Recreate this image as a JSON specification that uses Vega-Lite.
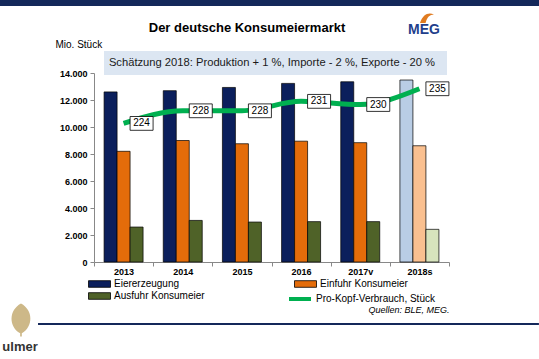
{
 "$schema": "https://vega.github.io/schema/vega-lite/v6.json",
 "width": 355,
 "height": 189,
 "autosize": {"type": "none"},
 "padding": {"left": 94, "top": 73, "right": 90, "bottom": 97},
 "background": "white",
 "config": {"font": "Liberation Sans", "view": {"stroke": null}},
 "datasets": {
  "balken": [
   {"Jahr": "2013", "Reihe": "Eiererzeugung", "Mio": 12600},
   {"Jahr": "2013", "Reihe": "Einfuhr Konsumeier", "Mio": 8200},
   {"Jahr": "2013", "Reihe": "Ausfuhr Konsumeier", "Mio": 2590},
   {"Jahr": "2014", "Reihe": "Eiererzeugung", "Mio": 12690},
   {"Jahr": "2014", "Reihe": "Einfuhr Konsumeier", "Mio": 9000},
   {"Jahr": "2014", "Reihe": "Ausfuhr Konsumeier", "Mio": 3080},
   {"Jahr": "2015", "Reihe": "Eiererzeugung", "Mio": 12930},
   {"Jahr": "2015", "Reihe": "Einfuhr Konsumeier", "Mio": 8760},
   {"Jahr": "2015", "Reihe": "Ausfuhr Konsumeier", "Mio": 2960},
   {"Jahr": "2016", "Reihe": "Eiererzeugung", "Mio": 13230},
   {"Jahr": "2016", "Reihe": "Einfuhr Konsumeier", "Mio": 8950},
   {"Jahr": "2016", "Reihe": "Ausfuhr Konsumeier", "Mio": 2990},
   {"Jahr": "2017v", "Reihe": "Eiererzeugung", "Mio": 13350},
   {"Jahr": "2017v", "Reihe": "Einfuhr Konsumeier", "Mio": 8840},
   {"Jahr": "2017v", "Reihe": "Ausfuhr Konsumeier", "Mio": 2990},
   {"Jahr": "2018s", "Reihe": "Eiererzeugung", "Mio": 13480},
   {"Jahr": "2018s", "Reihe": "Einfuhr Konsumeier", "Mio": 8610},
   {"Jahr": "2018s", "Reihe": "Ausfuhr Konsumeier", "Mio": 2420}
  ],
  "verbrauch": [
   {"Jahr": "2013", "ProKopf": 224},
   {"Jahr": "2014", "ProKopf": 228},
   {"Jahr": "2015", "ProKopf": 228},
   {"Jahr": "2016", "ProKopf": 231},
   {"Jahr": "2017v", "ProKopf": 230},
   {"Jahr": "2018s", "ProKopf": 235}
  ]
 },
 "layer": [
  {
   "layer": [
    {
     "data": {"name": "balken"},
     "transform": [{"filter": "datum.Jahr !== '2018s'"}],
     "mark": {"type": "bar", "stroke": "#000000", "strokeWidth": 0.7},
     "encoding": {
      "x": {"field": "Jahr", "type": "nominal",
       "scale": {"domain": ["2013", "2014", "2015", "2016", "2017v", "2018s"], "paddingInner": 0, "paddingOuter": 0},
       "axis": {"title": "Quellen: BLE, MEG.", "titleFontStyle": "italic", "titleFontWeight": "normal", "titleFontSize": 9, "titleX": 355, "titleY": 47, "titleAlign": "right", "titleBaseline": "middle", "titleColor": "#000000",
        "labelAngle": 0, "labelFontWeight": "bold", "labelFontSize": 9, "labelPadding": 1, "labelColor": "#000000",
        "tickBand": "extent", "tickSize": 4, "tickColor": "#888888", "domainColor": "#888888"}},
      "xOffset": {"field": "Reihe", "type": "nominal",
       "scale": {"domain": ["Eiererzeugung", "Einfuhr Konsumeier", "Ausfuhr Konsumeier"], "paddingInner": 0, "paddingOuter": 0.776}},
      "y": {"field": "Mio", "type": "quantitative",
       "scale": {"domain": [0, 14000], "nice": false},
       "axis": {"title": "Mio. Stück", "titleAngle": 0, "titleX": -39, "titleY": -29, "titleAlign": "left", "titleBaseline": "middle", "titleFontWeight": "normal", "titleFontSize": 10, "titleColor": "#000000",
        "values": [0, 2000, 4000, 6000, 8000, 10000, 12000, 14000],
        "labelExpr": "replace(format(datum.value, ','), ',', '.')",
        "labelFontWeight": "bold", "labelFontSize": 9, "labelColor": "#000000", "labelPadding": 3,
        "tickSize": 4, "tickColor": "#888888", "domainColor": "#888888", "grid": false}},
      "color": {"field": "Reihe", "type": "nominal",
       "scale": {"domain": ["Eiererzeugung", "Einfuhr Konsumeier", "Ausfuhr Konsumeier"],
                 "range": ["#0B1F5C", "#E46C0A", "#4F6228"]},
       "legend": {"title": null, "orient": "none", "direction": "horizontal", "legendX": -0.5, "legendY": 205, "columns": 2, "columnPadding": 87, "rowPadding": 1,
        "symbolType": "M-2,-0.6H2V0.6H-2Z", "symbolSize": 121, "symbolStrokeColor": "#000000", "symbolStrokeWidth": 0.8, "symbolOpacity": 1,
        "labelOffset": 8.5, "labelFontSize": 10, "labelColor": "#000000", "labelFont": "Liberation Sans"}}
     }
    },
    {
     "data": {"name": "balken"},
     "transform": [{"filter": "datum.Jahr === '2018s'"}],
     "mark": {"type": "bar", "stroke": "#000000", "strokeWidth": 0.7},
     "encoding": {
      "x": {"field": "Jahr", "type": "nominal"},
      "xOffset": {"field": "Reihe", "type": "nominal"},
      "y": {"field": "Mio", "type": "quantitative", "scale": {"domain": [0, 14000], "nice": false}, "axis": null},
      "color": {"field": "Reihe", "type": "nominal",
       "scale": {"domain": ["Eiererzeugung", "Einfuhr Konsumeier", "Ausfuhr Konsumeier"], "range": ["#B9CDE5", "#FAC090", "#D7E4BD"]},
       "legend": null}
     }
    },
    {
     "data": {"name": "verbrauch"},
     "mark": {"type": "line", "interpolate": "monotone", "strokeWidth": 5},
     "encoding": {
      "x": {"field": "Jahr", "type": "nominal"},
      "y": {"field": "ProKopf", "type": "quantitative", "scale": {"domain": [180, 240], "nice": false, "zero": false}, "axis": null},
      "stroke": {"datum": "Pro-Kopf-Verbrauch, Stück", "type": "nominal", "scale": {"range": ["#00B050"]},
       "legend": {"title": null, "orient": "none", "legendX": 193, "legendY": 213, "symbolType": "stroke", "symbolSize": 484, "symbolStrokeWidth": 4, "symbolOpacity": 1,
        "labelOffset": 3, "labelFontSize": 10, "labelColor": "#000000", "labelFont": "Liberation Sans"}}
     }
    },
    {
     "data": {"name": "verbrauch"},
     "mark": {"type": "point", "shape": "M-1,-0.6H1V0.6H-1Z", "size": 529, "filled": true, "fill": "#FFFFFF", "stroke": "#000000", "strokeWidth": 0.8, "opacity": 1, "xOffset": 18},
     "encoding": {
      "x": {"field": "Jahr", "type": "nominal"},
      "y": {"field": "ProKopf", "type": "quantitative", "scale": {"domain": [180, 240], "nice": false, "zero": false}, "axis": null}
     }
    },
    {
     "data": {"name": "verbrauch"},
     "mark": {"type": "text", "dx": 18, "fontSize": 10, "align": "center", "baseline": "middle", "color": "#000000"},
     "encoding": {
      "x": {"field": "Jahr", "type": "nominal"},
      "y": {"field": "ProKopf", "type": "quantitative", "scale": {"domain": [180, 240], "nice": false, "zero": false}, "axis": null},
      "text": {"field": "ProKopf", "type": "quantitative"}
     }
    }
   ],
   "resolve": {"scale": {"y": "independent", "color": "independent"}}
  },
  {
   "layer": [
    {
     "data": {"values": [{}]},
     "mark": {"type": "rect", "color": "#DCE6F2"},
     "encoding": {
      "x": {"datum": 0.169, "type": "quantitative", "scale": {"domain": [0, 6], "nice": false, "zero": false}, "axis": null},
      "x2": {"datum": 5.966},
      "y": {"datum": 13852, "type": "quantitative", "scale": {"domain": [0, 14000], "nice": false, "zero": false}, "axis": null},
      "y2": {"datum": 15630}
     }
    },
    {
     "data": {"values": [{}]},
     "mark": {"type": "rect", "color": "#14285A"},
     "encoding": {
      "x": {"datum": -1.6, "type": "quantitative"},
      "x2": {"datum": 7.55},
      "y": {"datum": 18963, "type": "quantitative"},
      "y2": {"datum": 19407}
     }
    },
    {
     "data": {"values": [{}]},
     "mark": {"type": "text", "text": "Schätzung 2018: Produktion + 1 %, Importe - 2 %, Exporte - 20 %", "fontSize": 11.2, "align": "center", "baseline": "middle", "color": "#1A1A1A"},
     "encoding": {
      "x": {"datum": 3.008, "type": "quantitative"},
      "y": {"datum": 14740, "type": "quantitative"}
     }
    },
    {
     "data": {"values": [{}]},
     "mark": {"type": "text", "text": "Der deutsche Konsumeiermarkt", "fontSize": 13, "fontWeight": "bold", "align": "center", "baseline": "middle", "color": "#000000"},
     "encoding": {
      "x": {"datum": 2.586, "type": "quantitative"},
      "y": {"datum": 17330, "type": "quantitative"}
     }
    },
    {
     "data": {"values": [{}]},
     "mark": {"type": "text", "text": "MEG", "fontSize": 14, "fontWeight": "bold", "align": "center", "baseline": "middle", "color": "#1F3F8C"},
     "encoding": {
      "x": {"datum": 5.577, "type": "quantitative"},
      "y": {"datum": 17185, "type": "quantitative"}
     }
    },
    {
     "data": {"values": [{}]},
     "mark": {"type": "point", "shape": "M-1,0.7 C-0.6,-0.5 0.2,-0.9 1,-0.5 C0.4,-0.5 0,-0.1 -0.2,0.7 Z", "size": 196, "filled": true, "color": "#E07B20", "opacity": 1},
     "encoding": {
      "x": {"datum": 5.628, "type": "quantitative"},
      "y": {"datum": 18074, "type": "quantitative"}
     }
    },
    {
     "data": {"values": [{}]},
     "mark": {"type": "rule", "color": "#14285A", "strokeWidth": 2},
     "encoding": {
      "x": {"datum": -0.946, "type": "quantitative"},
      "x2": {"datum": 7.52},
      "y": {"datum": -4593, "type": "quantitative"}
     }
    },
    {
     "data": {"values": [{}]},
     "mark": {"type": "point", "shape": "M0,-1 C0.75,-0.6 0.75,0.4 0.05,0.8 L0.05,1 L-0.05,1 L-0.05,0.8 C-0.75,0.4 -0.75,-0.6 0,-1 Z", "size": 1100, "filled": true, "color": "#CDB888", "opacity": 1},
     "encoding": {
      "x": {"datum": -1.234, "type": "quantitative"},
      "y": {"datum": -4296, "type": "quantitative"}
     }
    },
    {
     "data": {"values": [{}]},
     "mark": {"type": "text", "text": "ulmer", "fontSize": 13, "fontWeight": "bold", "align": "center", "baseline": "middle", "color": "#333333"},
     "encoding": {
      "x": {"datum": -1.25, "type": "quantitative"},
      "y": {"datum": -6296, "type": "quantitative"}
     }
    }
   ]
  }
 ],
 "resolve": {"scale": {"x": "independent", "y": "independent"}}
}
